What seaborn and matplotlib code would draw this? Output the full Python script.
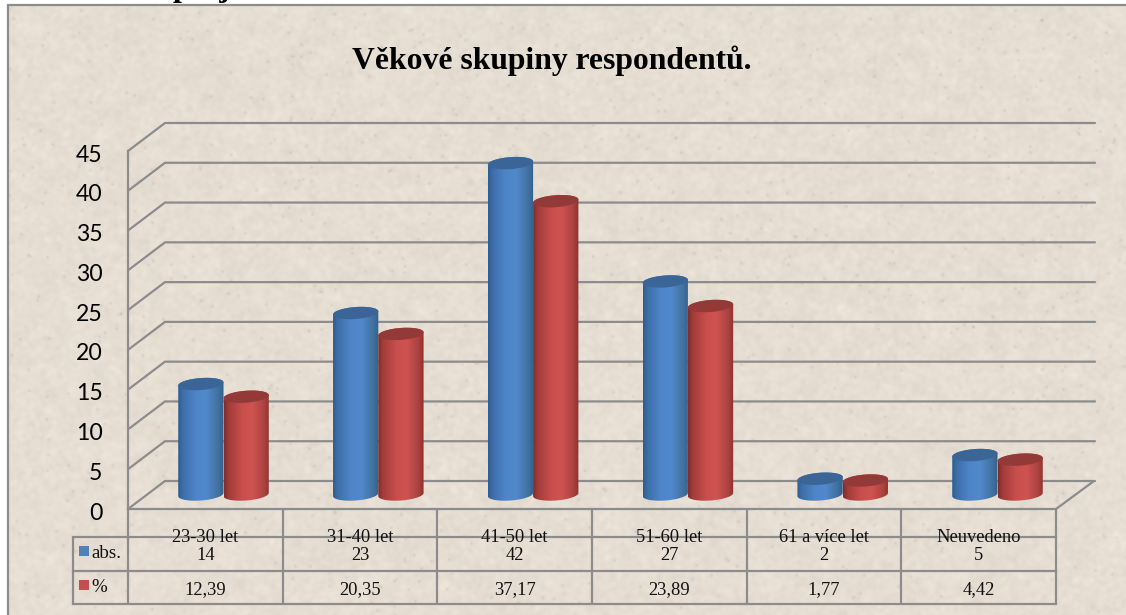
import numpy as np
import pandas as pd
import matplotlib
matplotlib.use("Agg")
import matplotlib.pyplot as plt
from matplotlib.colors import LinearSegmentedColormap
from matplotlib.patches import Polygon, Rectangle
from matplotlib.transforms import ScaledTranslation
import seaborn as sns

categories = ["23-30 let", "31-40 let", "41-50 let", "51-60 let", "61 a více let", "Neuvedeno"]
abs_values = [14, 23, 42, 27, 2, 5]
pct_values = [12.39, 20.35, 37.17, 23.89, 1.77, 4.42]
pct_labels = ["12,39", "20,35", "37,17", "23,89", "1,77", "4,42"]
series_names = ["abs.", "%"]
title = "Věkové skupiny respondentů."
y_ticks = list(range(0, 50, 5))

W, H, DPI = 1126, 615, 100
LINE = "#8c8c8c"
LW = 1.6
BLUE, RED = "#4f81bd", "#c0504d"
SERIF = "Liberation Serif"


def px(n):
    return n * 72 / DPI


sns.set_style("white")
fig = plt.figure(figsize=(W / DPI, H / DPI), dpi=DPI)
fig.patch.set_facecolor("white")


def rect_px(x0, y0, x1, y1):
    return [x0 / W, 1 - y1 / H, (x1 - x0) / W, (y1 - y0) / H]


# ---- paper-like background texture (decoration only, not chart data)
bg = fig.add_axes([0, 0, 1, 1], zorder=0)
bg.set_xlim(0, W)
bg.set_ylim(H, 0)
bg.axis("off")
rng = np.random.default_rng(7)


def blur(a, k):
    f = np.fft.rfft2(a)
    yy = np.fft.fftfreq(a.shape[0])[:, None]
    xx = np.fft.rfftfreq(a.shape[1])[None, :]
    return np.fft.irfft2(f * np.exp(-2 * (np.pi * k) ** 2 * (xx ** 2 + yy ** 2)), s=a.shape)


tex = 12 * blur(rng.normal(size=(H, W)), 1.8) + 22 * blur(rng.normal(size=(H, W)), 6)
specks = blur((rng.random((H, W)) > 0.9988).astype(float), 1.1) * 110
shade = tex - specks
base = np.array([230, 222, 211], float)
img = np.clip(base[None, None, :] + shade[:, :, None] * np.array([1, 1, 1.05]), 0, 255) / 255
bg.imshow(img, extent=(0, W, H, 0), aspect="auto", zorder=0, interpolation="bilinear")
bg.set_xlim(0, W)
bg.set_ylim(H, 0)
bg.add_patch(Rectangle((0, 0), W, 4.5, fc="white", ec="none", zorder=1))
bg.add_patch(Rectangle((0, 0), 7, H, fc="white", ec="none", zorder=1))
bg.text(173, -4, "projekt", family=SERIF, weight="bold", fontsize=px(32), ha="left", va="baseline",
        color="black", clip_on=True, zorder=1.5)
bg.plot([W, 7.5, 7.5], [5, 5, H], color=LINE, lw=LW, zorder=2, solid_joinstyle="miter")

# ---- value axis and back-wall gridlines
FX0, FX1, FY0, FY1 = 128, 1056, 509, 151
wall = fig.add_axes(rect_px(FX0, FY1, FX1, FY0), zorder=1, facecolor="none")
wall.set_ylim(0, 45)
wall.set_xlim(FX0, FX1)
wall.set_xticks([])
wall.set_yticks(y_ticks)
wall.set_yticklabels([str(t) for t in y_ticks], family="Lato", fontsize=px(23), color="black")
wall.tick_params(axis="y", length=0, pad=px(25.5))
label_shift = ScaledTranslation(0, -2 / DPI, fig.dpi_scale_trans)
for lab in wall.get_yticklabels():
    lab.set_transform(lab.get_transform() + label_shift)
for s in ("top", "right"):
    wall.spines[s].set_visible(False)
for s in ("left", "bottom"):
    wall.spines[s].set_color(LINE)
    wall.spines[s].set_linewidth(LW)
depth_x, depth_y = 37, 28 * 45 / (FY0 - FY1)
for t in y_ticks:
    wall.plot([FX0, FX0 + depth_x, 1095], [t, t + depth_y, t + depth_y], color=LINE, lw=LW,
              clip_on=False, solid_joinstyle="miter")
wall.plot([FX1, FX1 + depth_x + 1], [0, depth_y], color=LINE, lw=LW, clip_on=False)

# ---- bars
BASE_PY, SCALE, STEP, X0_PY = 494.5, 7.89, 154.8, 223.5
bars = fig.add_axes(rect_px(FX0, FY1, FX1, FY0), zorder=2, facecolor="none")
frame = pd.DataFrame({
    "kat": categories * 2,
    "hod": abs_values + pct_values,
    "serie": [series_names[0]] * 6 + [series_names[1]] * 6,
})
sns.barplot(data=frame, x="kat", y="hod", hue="serie", palette=[BLUE, RED], width=0.585, gap=0,
            dodge=True, legend=False, ax=bars, saturation=1, errorbar=None)
xlim = ((FX0 - X0_PY) / STEP, (FX1 - X0_PY) / STEP)
ylim = ((BASE_PY - FY0) / SCALE, (BASE_PY - FY1) / SCALE)
bars.axis("off")

cmaps = [
    LinearSegmentedColormap.from_list("b", [(0, "#2f5c90"), (0.1, "#3d6ea8"), (0.38, "#4e85c8"),
                                            (0.62, "#5189cd"), (0.88, "#41719f"), (1, "#33608f")]),
    LinearSegmentedColormap.from_list("r", [(0, "#7e2c2a"), (0.1, "#a23c3a"), (0.4, "#c84f4d"),
                                            (0.62, "#cf5351"), (0.88, "#ab4240"), (1, "#8c322f")]),
]
tops = ["#3b6597", "#933a38"]
ry = 6.0 / SCALE
tilt = 1.6 / SCALE
grad = np.linspace(0, 1, 128)[None, :]
t_par = np.linspace(0, 2 * np.pi, 121)
for c_idx, container in enumerate(bars.containers):
    for patch in container:
        x0, w, v = patch.get_x(), patch.get_width(), patch.get_height()
        patch.set_visible(False)
        xc = x0 + w / 2
        ex = xc + w / 2 * np.cos(t_par)
        ey = ry * np.sin(t_par) + tilt * np.cos(t_par)
        lower = (t_par >= np.pi)
        outline = np.vstack([
            np.column_stack([ex[lower], ey[lower]]),
            np.column_stack([ex[~lower], (ey + v)[~lower]]),
        ])
        clip = Polygon(outline, closed=True, transform=bars.transData, fc="none", ec="none")
        bars.add_patch(clip)
        im = bars.imshow(grad, extent=(x0, x0 + w, -ry * 2, v + ry * 2), cmap=cmaps[c_idx],
                         aspect="auto", zorder=3 + c_idx, vmin=0, vmax=1)
        im.set_clip_path(clip)
        bars.add_patch(Polygon(np.column_stack([ex, ey + v]), closed=True, fc=tops[c_idx], ec="none",
                               zorder=3.5 + c_idx))
bars.set_xlim(*xlim)
bars.set_ylim(*ylim)

# ---- data table
tab = fig.add_axes([0, 0, 1, 1], zorder=3, facecolor="none")
tab.set_xlim(0, W)
tab.set_ylim(H, 0)
tab.axis("off")
col_edges = np.linspace(FX0, FX1, len(categories) + 1)
centers = (col_edges[:-1] + col_edges[1:]) / 2
ROWS = [537, 570.5, 604]
for y in ROWS:
    tab.plot([73, FX1], [y, y], color=LINE, lw=LW, solid_capstyle="projecting")
tab.plot([73, 73], [ROWS[0], ROWS[2]], color=LINE, lw=LW)
for x in col_edges:
    tab.plot([x, x], [FY0, ROWS[2]], color=LINE, lw=LW)
TXT = "#111111"
for i, cx in enumerate(centers):
    tab.text(cx, 542.5, categories[i], family=SERIF, fontsize=px(18.5), ha="center", va="baseline", color=TXT)
    tab.text(cx, 560, str(abs_values[i]), family=SERIF, fontsize=px(18.5), ha="center", va="baseline", color=TXT)
    tab.text(cx, 594, pct_labels[i], family=SERIF, fontsize=px(18.5), ha="center", va="baseline", color=TXT)
for (ty, col, name) in zip((546, 580), (BLUE, RED), series_names):
    tab.add_patch(Rectangle((79, ty), 10, 10, fc=col, ec="none"))
    tab.text(91.5, ty + 12, name, family=SERIF, fontsize=px(19), ha="left", va="baseline", color=TXT)

tab.text(552, 69.5, title, family=SERIF, weight="bold", fontsize=px(31.7), ha="center", va="baseline", color="black")

fig.savefig("out.png", dpi=DPI)
